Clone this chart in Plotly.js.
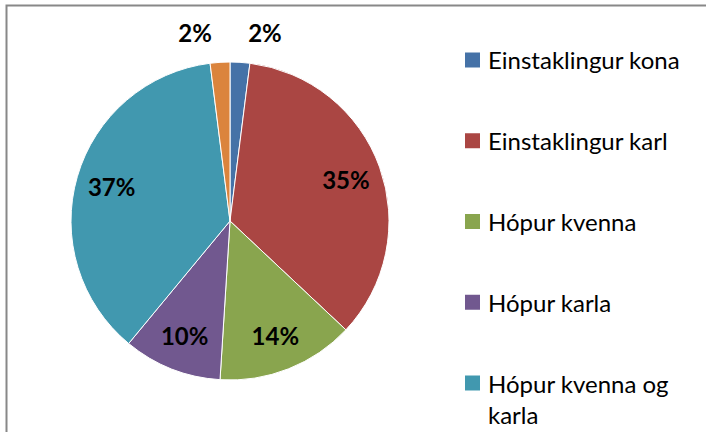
<!DOCTYPE html>
<html>
<head>
<meta charset="utf-8">
<script src="https://cdn.plot.ly/plotly-3.0.1.min.js"></script>
<style>html,body{margin:0;padding:0;background:#fff}#chart{width:706px;height:432px}</style>
</head>
<body>
<div id="chart"></div>
<script>
var categories = ["Einstaklingur kona", "Einstaklingur karl", "Hópur kvenna", "Hópur karla", "Hópur kvenna og karla", "Annað"];
var values = [2, 35, 14, 10, 37, 2];
var colors = ["#4572A7", "#AA4643", "#89A54E", "#71588F", "#4198AF", "#DB843D"];
var legendCount = 5;

var W = 706, H = 432;
var FONT = "Lato, 'Open Sans', sans-serif";

function measure(t, size) {
  var c = document.createElement("canvas").getContext("2d");
  c.font = size + "px Lato";
  return c.measureText(t).width;
}
function wrap(t, maxW, size) {
  var words = t.split(" "), lines = [], cur = "";
  words.forEach(function (w) {
    var test = cur ? cur + " " + w : w;
    if (cur && measure(test, size) > maxW) { lines.push(cur); cur = w; } else cur = test;
  });
  if (cur) lines.push(cur);
  return lines;
}

var isSmall = values.map(function (v) { return v < 5; });
var cx = 230, cy = 221, r = 159, rOut = 174;
var dom = { x: [(cx - r) / W, (cx + r) / W], y: [(H - cy - r) / H, (H - cy + r) / H] };
var domOut = { x: [(cx - rOut) / W, (cx + rOut) / W], y: [(H - cy - rOut) / H, (H - cy + rOut) / H] };
var lblFont = { family: FONT, size: 24, color: "#000" };
var clear = values.map(function () { return "rgba(0,0,0,0)"; });

var slices = {
  type: "pie", labels: categories, values: values, sort: false,
  direction: "clockwise", rotation: 0,
  marker: { colors: colors, line: { color: "#ffffff", width: 1 } },
  textinfo: "none", automargin: false, showlegend: false, domain: dom
};
// transparent ring carrying the inside percentage labels
var innerLabels = {
  type: "pie", labels: categories, values: values, sort: false,
  direction: "clockwise", rotation: 0, hole: 0.55,
  marker: { colors: clear, line: { width: 0 } },
  texttemplate: isSmall.map(function (s) { return s ? "" : "<b>%{percent:.0%}</b>"; }),
  textposition: "inside", insidetextorientation: "horizontal",
  textfont: lblFont, insidetextfont: lblFont,
  automargin: false, showlegend: false, domain: dom
};
// transparent larger pie carrying the outside labels of the small slices
var outerLabels = {
  type: "pie", labels: categories, values: values, sort: false,
  direction: "clockwise", rotation: 0, hole: 0.99,
  marker: { colors: clear, line: { width: 0 } },
  texttemplate: isSmall.map(function (s) { return s ? "<b>%{percent:.0%}</b>" : ""; }),
  textposition: "outside",
  textfont: lblFont, outsidetextfont: lblFont,
  automargin: false, showlegend: false, domain: domOut
};

var shapes = [{
  type: "rect", xref: "paper", yref: "paper",
  x0: 6.5 / W, x1: 1.05, y0: -0.05, y1: 1 - 5.5 / H,
  line: { color: "#888888", width: 2 }, fillcolor: "rgba(0,0,0,0)", layer: "below"
}];
var annotations = [];
var fs = 24;
for (var i = 0; i < legendCount; i++) {
  var yc = 60 + 80.75 * i;
  shapes.push({
    type: "rect", xref: "paper", yref: "paper",
    x0: 465 / W, x1: 480 / W, y0: 1 - (yc + 7.5) / H, y1: 1 - (yc - 7.5) / H,
    line: { width: 0 }, fillcolor: colors[i]
  });
  var lines = wrap(categories[i], 706 - 488 - 4, fs);
  lines.forEach(function (ln, j) {
    annotations.push({
      xref: "paper", yref: "paper", x: 486 / W, y: 1 - (yc + j * 31) / H,
      xanchor: "left", yanchor: "middle", showarrow: false, text: ln,
      font: { family: FONT, size: fs, color: "#000" }
    });
  });
}

var layout = {
  width: W, height: H,
  margin: { l: 0, r: 0, t: 0, b: 0 },
  paper_bgcolor: "#ffffff",
  showlegend: false,
  shapes: shapes,
  annotations: annotations
};
Plotly.newPlot("chart", [slices, innerLabels, outerLabels], layout, { displayModeBar: false, staticPlot: true });
</script>
</body>
</html>
